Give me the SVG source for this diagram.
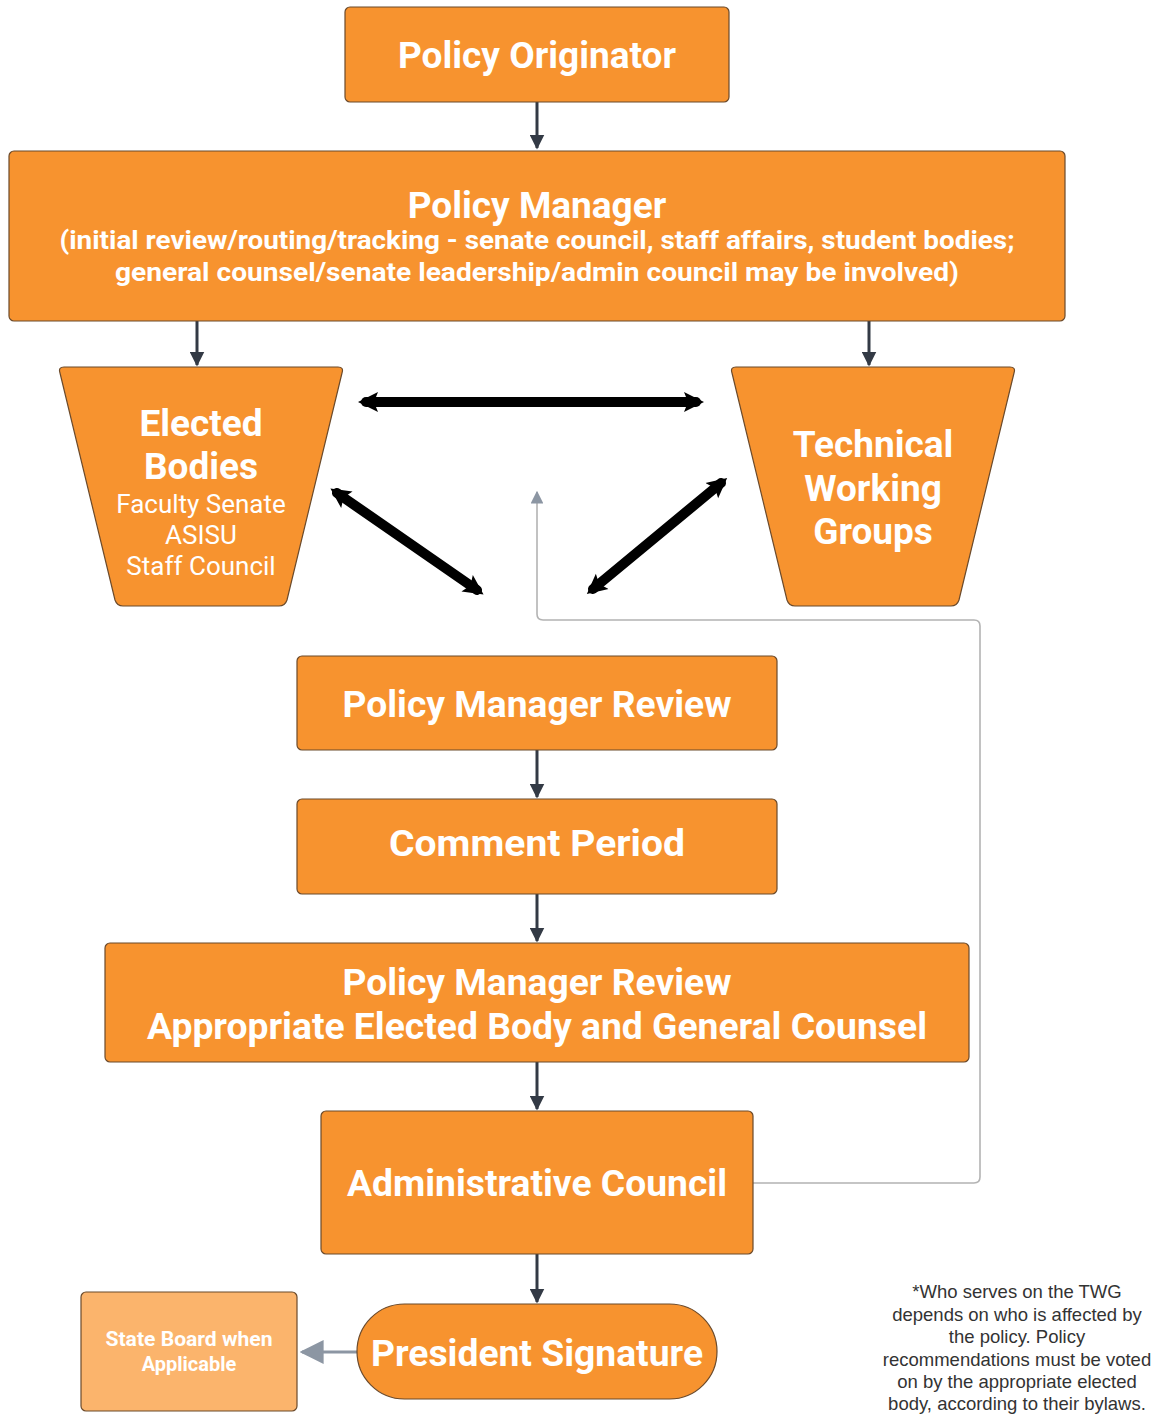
<svg xmlns="http://www.w3.org/2000/svg" width="1161" height="1414" viewBox="0 0 1161 1414">
<style>
.box{fill:#f7932f;stroke:#6b4a2b;stroke-width:1.2}
.light{fill:#fbb46c;stroke:#6b4a2b;stroke-width:1.2}
.t{font-family:Roboto,"Liberation Sans",sans-serif;fill:#fff;text-anchor:middle;font-weight:bold}
.r{font-family:Roboto,"Liberation Sans",sans-serif;fill:#fff;text-anchor:middle}
.note{font-family:"Liberation Sans",Arial,sans-serif;fill:#333;text-anchor:middle;font-size:18.5px}
.flow{stroke:#333a45;stroke-width:3;fill:none}
.thick{stroke:#000;stroke-width:10;fill:none;stroke-linecap:round}
.gray{stroke:#b3b3b3;stroke-width:1.6;fill:none}
</style>
<defs>
<marker id="ah" viewBox="0 0 10 10" refX="9" refY="5" markerWidth="5" markerHeight="5" orient="auto" markerUnits="strokeWidth"><path d="M0,0 L10,5 L0,10 z" fill="#333a45"/></marker>
<marker id="bh" viewBox="0 0 10 10" refX="6" refY="5" markerWidth="2" markerHeight="2.2" orient="auto-start-reverse" markerUnits="strokeWidth"><path d="M0,0 L10,5 L0,10 L2,5 z" fill="#000"/></marker>
<marker id="gh" viewBox="0 0 10 10" refX="9" refY="5" markerWidth="8" markerHeight="8" orient="auto" markerUnits="strokeWidth"><path d="M0,0 L10,5 L0,10 z" fill="#8c96a3"/></marker>
</defs>
<rect width="1161" height="1414" fill="#fff"/>

<g id="connectors">
<line class="flow" x1="537" y1="102" x2="537" y2="148" marker-end="url(#ah)"/>
<line class="flow" x1="197" y1="321" x2="197" y2="365" marker-end="url(#ah)"/>
<line class="flow" x1="869" y1="321" x2="869" y2="365" marker-end="url(#ah)"/>
<line class="flow" x1="537" y1="750" x2="537" y2="797" marker-end="url(#ah)"/>
<line class="flow" x1="537" y1="894" x2="537" y2="941" marker-end="url(#ah)"/>
<line class="flow" x1="537" y1="1062" x2="537" y2="1109" marker-end="url(#ah)"/>
<line class="flow" x1="537" y1="1254" x2="537" y2="1302" marker-end="url(#ah)"/>
<line class="thick" x1="366" y1="402" x2="696" y2="402" marker-start="url(#bh)" marker-end="url(#bh)"/>
<line class="thick" x1="337" y1="493" x2="477" y2="590" marker-start="url(#bh)" marker-end="url(#bh)"/>
<line class="thick" x1="721" y1="483" x2="593" y2="589" marker-start="url(#bh)" marker-end="url(#bh)"/>
<path class="gray" d="M753,1183 H974 Q980,1183 980,1177 V626 Q980,620 974,620 H543 Q537,620 537,614 V492" marker-end="url(#gh)"/>
<line x1="357" y1="1352" x2="302" y2="1352" stroke="#8c96a3" stroke-width="3" marker-end="url(#gh)"/>
</g>

<g id="policy-originator">
<rect class="box" x="345" y="7" width="384" height="95" rx="5"/>
<text class="t" x="537" y="68" font-size="37">Policy Originator</text>
</g>

<g id="policy-manager">
<rect class="box" x="9" y="151" width="1056" height="170" rx="5"/>
<text class="t" x="537" y="218" font-size="37">Policy Manager</text>
<text class="t" x="537" y="249" font-size="25" textLength="955" lengthAdjust="spacingAndGlyphs">(initial review/routing/tracking - senate council, staff affairs, student bodies;</text>
<text class="t" x="537" y="281" font-size="25" textLength="844" lengthAdjust="spacingAndGlyphs">general counsel/senate leadership/admin council may be involved)</text>
</g>

<g id="elected-bodies">
<path class="box" d="M64,367 H338 Q344,367 342,373 L287,600 Q285,606 279,606 H123 Q117,606 115,600 L60,373 Q58,367 64,367 Z"/>
<text class="t" x="201" y="436" font-size="37">Elected</text>
<text class="t" x="201" y="479" font-size="37">Bodies</text>
<text class="r" x="201" y="513" font-size="26">Faculty Senate</text>
<text class="r" x="201" y="544" font-size="26">ASISU</text>
<text class="r" x="201" y="575" font-size="26">Staff Council</text>
</g>

<g id="technical-working-groups">
<path class="box" d="M736,367 H1010 Q1016,367 1014,373 L959,600 Q957,606 951,606 H795 Q789,606 787,600 L732,373 Q730,367 736,367 Z"/>
<text class="t" x="873" y="457" font-size="37">Technical</text>
<text class="t" x="873" y="501" font-size="37">Working</text>
<text class="t" x="873" y="544" font-size="37">Groups</text>
</g>

<g id="policy-manager-review">
<rect class="box" x="297" y="656" width="480" height="94" rx="5"/>
<text class="t" x="537" y="717" font-size="36" textLength="389" lengthAdjust="spacingAndGlyphs">Policy Manager Review</text>
</g>

<g id="comment-period">
<rect class="box" x="297" y="799" width="480" height="95" rx="5"/>
<text class="t" x="537" y="856" font-size="36" textLength="296" lengthAdjust="spacingAndGlyphs">Comment Period</text>
</g>

<g id="policy-manager-review-2">
<rect class="box" x="105" y="943" width="864" height="119" rx="5"/>
<text class="t" x="537" y="995" font-size="36" textLength="389" lengthAdjust="spacingAndGlyphs">Policy Manager Review</text>
<text class="t" x="537" y="1039" font-size="36" textLength="780" lengthAdjust="spacingAndGlyphs">Appropriate Elected Body and General Counsel</text>
</g>

<g id="administrative-council">
<rect class="box" x="321" y="1111" width="432" height="143" rx="5"/>
<text class="t" x="537" y="1196" font-size="36" textLength="380" lengthAdjust="spacingAndGlyphs">Administrative Council</text>
</g>

<g id="president-signature">
<rect class="box" x="357" y="1304" width="360" height="95" rx="47.5"/>
<text class="t" x="537" y="1366" font-size="36" textLength="332" lengthAdjust="spacingAndGlyphs">President Signature</text>
</g>

<g id="state-board">
<rect class="light" x="81" y="1292" width="216" height="119" rx="5"/>
<text class="t" x="189" y="1346" font-size="20" textLength="167" lengthAdjust="spacingAndGlyphs">State Board when</text>
<text class="t" x="189" y="1371" font-size="20">Applicable</text>
</g>

<g id="note">
<text class="note" x="1017" y="1298">*Who serves on the TWG</text>
<text class="note" x="1017" y="1321">depends on who is affected by</text>
<text class="note" x="1017" y="1343">the policy. Policy</text>
<text class="note" x="1017" y="1366">recommendations must be voted</text>
<text class="note" x="1017" y="1388">on by the appropriate elected</text>
<text class="note" x="1017" y="1410">body, according to their bylaws.</text>
</g>
</svg>
